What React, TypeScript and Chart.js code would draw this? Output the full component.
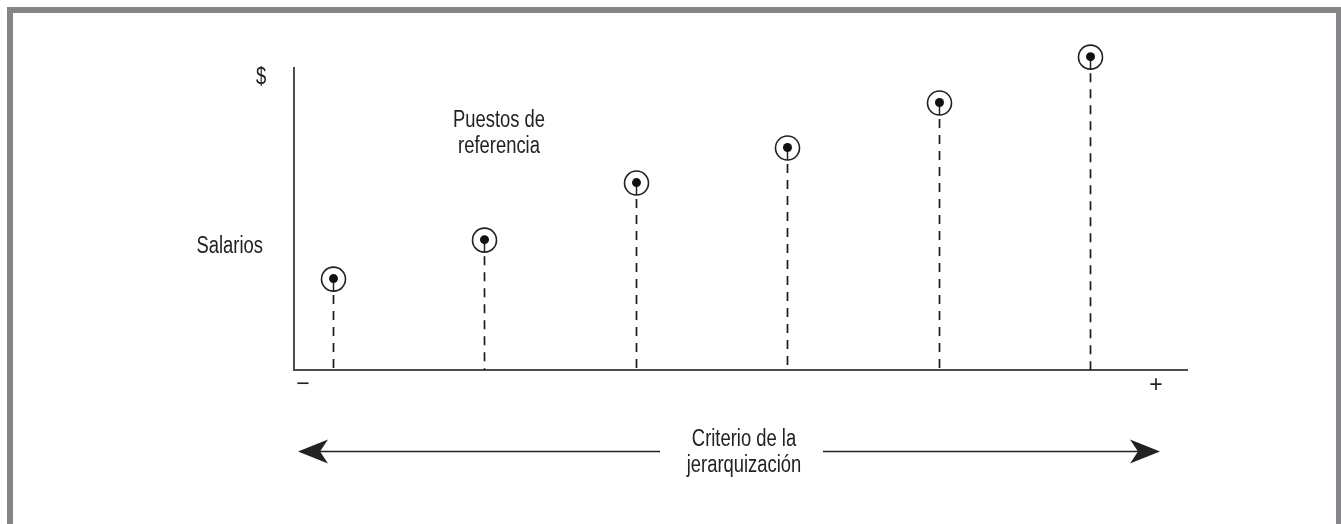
import React, { useEffect, useRef } from "react";
import { Chart, registerables } from "chart.js";

Chart.register(...registerables);

// Reference jobs (ranked by the hierarchy criterion) and their salaries
const jobs = [1, 2, 3, 4, 5, 6];
const salaries = [30.1, 43.0, 61.9, 73.5, 88.4, 103.6];

// Texts
const yAxisTexts = ["$", "Salarios"];
const xAxisEnds = ["\u2212", "+"];
const pointsLabel = ["Puestos de", "referencia"];
const criterionLabel = ["Criterio de la", "jerarquizaci\u00f3n"];

const FONT = '23px "Liberation Sans", Arial, sans-serif';
const NARROW = 0.8;
const INK = "#222222";

function text(ctx: any, s: string, x: number, y: number, align: "left" | "center" | "right", sx = NARROW) {
  ctx.save();
  ctx.translate(x, y);
  ctx.scale(sx, 1);
  ctx.textAlign = align;
  ctx.fillText(s, 0, 0);
  ctx.restore();
}

const deco = {
  id: "deco",
  beforeDraw(chart: any) {
    const ctx = chart.ctx;
    const W = chart.width;
    const H = chart.height;
    ctx.save();
    ctx.fillStyle = "#ffffff";
    ctx.fillRect(0, 0, W, H);
    ctx.fillStyle = "#858589";
    ctx.fillRect(7, 7, W - 7, 6);
    ctx.fillRect(7, 7, 6, H - 7);
    ctx.fillRect(W - 5, 7, 5, H - 7);
    ctx.restore();
  },
  afterDatasetsDraw(chart: any) {
    const ctx = chart.ctx;
    const area = chart.chartArea;
    const meta = chart.getDatasetMeta(0);
    const R = 12;
    ctx.save();
    meta.data.forEach((el: any) => {
      const x = Math.round(el.x) + 0.5;
      const y = el.y;
      // dashed drop line
      ctx.strokeStyle = "#1a1a1a";
      ctx.lineWidth = 1.7;
      ctx.setLineDash([9, 7]);
      ctx.beginPath();
      ctx.moveTo(x, y + R + 4);
      ctx.lineTo(x, area.bottom);
      ctx.stroke();
      ctx.setLineDash([]);
      // outer ring
      ctx.strokeStyle = INK;
      ctx.lineWidth = 1.6;
      ctx.beginPath();
      ctx.arc(x, y, R, 0, Math.PI * 2);
      ctx.stroke();
      // stem
      ctx.lineWidth = 1.5;
      ctx.beginPath();
      ctx.moveTo(x, y);
      ctx.lineTo(x, y + R);
      ctx.stroke();
      // inner dot
      ctx.fillStyle = "#111111";
      ctx.beginPath();
      ctx.arc(x, y - 0.5, 4.5, 0, Math.PI * 2);
      ctx.fill();
    });
    ctx.restore();
  },
  afterDraw(chart: any) {
    const ctx = chart.ctx;
    const a = chart.chartArea;
    ctx.save();
    ctx.fillStyle = INK;
    ctx.font = FONT;
    ctx.textBaseline = "alphabetic";
    // y axis texts
    text(ctx, yAxisTexts[0], a.left - 33, a.top + 16, "center");
    text(ctx, yAxisTexts[1], a.left - 31, 253, "right");
    // label of reference jobs
    text(ctx, pointsLabel[0], 499, 127, "center");
    text(ctx, pointsLabel[1], 499, 153, "center");
    // axis ends
    ctx.textBaseline = "middle";
    text(ctx, xAxisEnds[0], a.left + 9, a.bottom + 15, "center", 1);
    text(ctx, xAxisEnds[1], a.right - 31, a.bottom + 16, "center", 1);
    // criterion label
    ctx.textBaseline = "alphabetic";
    const cx = 744;
    text(ctx, criterionLabel[0], cx, 446, "center");
    text(ctx, criterionLabel[1], cx, 472, "center");
    // double arrow
    const ay = 451.5;
    const xl = a.left + 4;
    const xr = a.right - 27;
    ctx.strokeStyle = INK;
    ctx.lineWidth = 1.6;
    ctx.beginPath();
    ctx.moveTo(xl + 20, ay);
    ctx.lineTo(660, ay);
    ctx.moveTo(823, ay);
    ctx.lineTo(xr - 20, ay);
    ctx.stroke();
    ctx.fillStyle = INK;
    ctx.beginPath();
    ctx.moveTo(xl, ay);
    ctx.lineTo(xl + 30, ay - 12);
    ctx.lineTo(xl + 22, ay);
    ctx.lineTo(xl + 30, ay + 12);
    ctx.closePath();
    ctx.fill();
    ctx.beginPath();
    ctx.moveTo(xr, ay);
    ctx.lineTo(xr - 30, ay - 12);
    ctx.lineTo(xr - 22, ay);
    ctx.lineTo(xr - 30, ay + 12);
    ctx.closePath();
    ctx.fill();
    ctx.restore();
  },
};

export default function App() {
  const ref = useRef<HTMLCanvasElement | null>(null);
  useEffect(() => {
    if (!ref.current) return;
    const chart = new Chart(ref.current, {
      type: "scatter",
      data: {
        datasets: [
          {
            data: jobs.map((j, i) => ({ x: j, y: salaries[i] })),
            pointRadius: 0,
            pointHoverRadius: 0,
            showLine: false,
            clip: false,
          },
        ],
      },
      options: {
        responsive: false,
        animation: false,
        events: [],
        layout: { padding: { left: 294, right: 154, top: 68, bottom: 154 } },
        plugins: { legend: { display: false }, tooltip: { enabled: false } },
        scales: {
          x: {
            type: "linear",
            min: 0.742,
            max: 6.64,
            ticks: { display: false },
            grid: { display: false, drawTicks: false },
            border: { display: true, color: "#4d4d4d", width: 2 },
          },
          y: {
            type: "linear",
            min: 0,
            max: 100,
            ticks: { display: false },
            grid: { display: false, drawTicks: false },
            border: { display: true, color: "#4d4d4d", width: 2 },
          },
        },
      },
      plugins: [deco],
    });
    return () => chart.destroy();
  }, []);
  return (
    <div style={{ position: "absolute", left: 0, top: 0, width: 1341, height: 524, background: "#fff" }}>
      <canvas ref={ref} width={1341} height={524} style={{ display: "block" }} />
    </div>
  );
}
